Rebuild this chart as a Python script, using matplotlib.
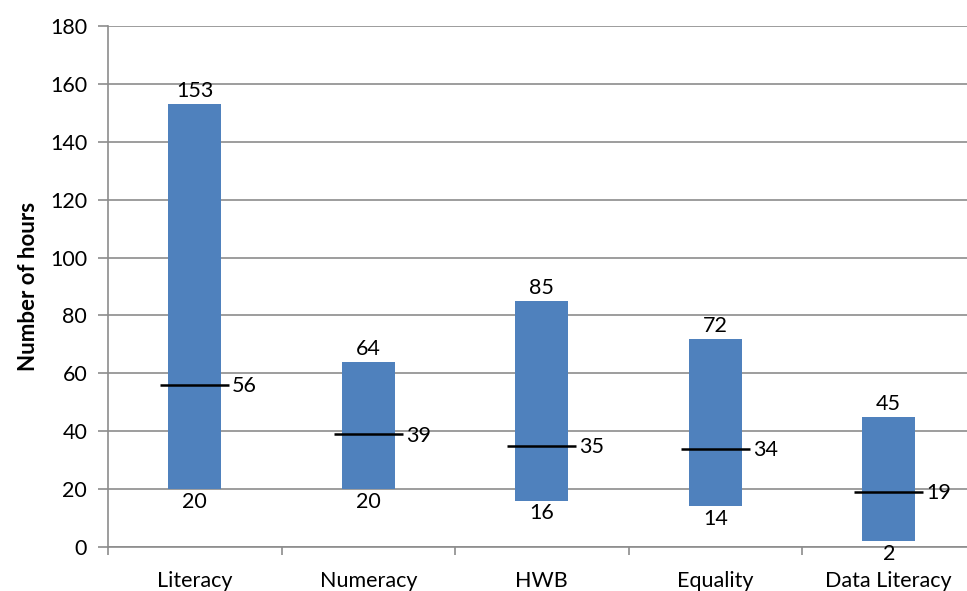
import numpy as np
import matplotlib
matplotlib.use("Agg")
from matplotlib import pyplot as plt

plt.rcParams['font.family'] = ['Lato', 'DejaVu Sans']

subjects = ["Literacy", "Numeracy", "HWB", "Equality", "Data Literacy"]
max_hours = [153, 64, 85, 72, 45]
min_hours = [20, 20, 16, 14, 2]
mid_hours = [56, 39, 35, 34, 19]

fig = plt.figure(figsize=(9.67, 5.91), dpi=100)
# axes runs a little past the right edge, like the original
ax = fig.add_axes([108 / 967, 44 / 591, 867.5 / 967, 521 / 591])

x = np.arange(len(subjects))
heights = np.array(max_hours) - np.array(min_hours)
ax.bar(x, heights, bottom=min_hours, width=0.305, color="#4F81BD", zorder=3)
ax.hlines(mid_hours, x - 0.2, x + 0.2, color="black", linewidth=1.8, zorder=4)

fs = 15.5
for i in range(len(subjects)):
    ax.annotate(str(max_hours[i]), (x[i], max_hours[i]), xytext=(0, 2),
                textcoords="offset points", ha="center", va="bottom", fontsize=fs)
    ax.annotate(str(min_hours[i]), (x[i], min_hours[i]), xytext=(0, -2),
                textcoords="offset points", ha="center", va="top", fontsize=fs)
    ax.annotate(str(mid_hours[i]), (x[i] + 0.2, mid_hours[i]), xytext=(2, -1),
                textcoords="offset points", ha="left", va="center", fontsize=fs)

ax.set_xlim(-0.5, 4.5)
ax.set_ylim(0, 180)
ax.set_yticks(range(0, 181, 20))
ax.yaxis.grid(True, color="#8c8c8c", linewidth=1.2, zorder=0)
ax.set_axisbelow(True)

ax.set_xticks(x)
ax.set_xticklabels(subjects, fontsize=fs)
ax.set_xticks(np.arange(-0.5, 5, 1), minor=True)
ax.tick_params(axis="x", which="major", length=0, pad=17)
ax.tick_params(axis="x", which="minor", length=6, color="#8c8c8c", width=1.2)
ax.tick_params(axis="y", length=7, color="#8c8c8c", width=1.2, labelsize=fs, pad=8)

for side in ["top", "right"]:
    ax.spines[side].set_visible(False)
for side in ["left", "bottom"]:
    ax.spines[side].set_color("#8c8c8c")
    ax.spines[side].set_linewidth(1.2)

ax.set_ylabel("Number of hours", fontsize=16, fontweight="bold", labelpad=8)

fig.savefig("out.png", dpi=100)
